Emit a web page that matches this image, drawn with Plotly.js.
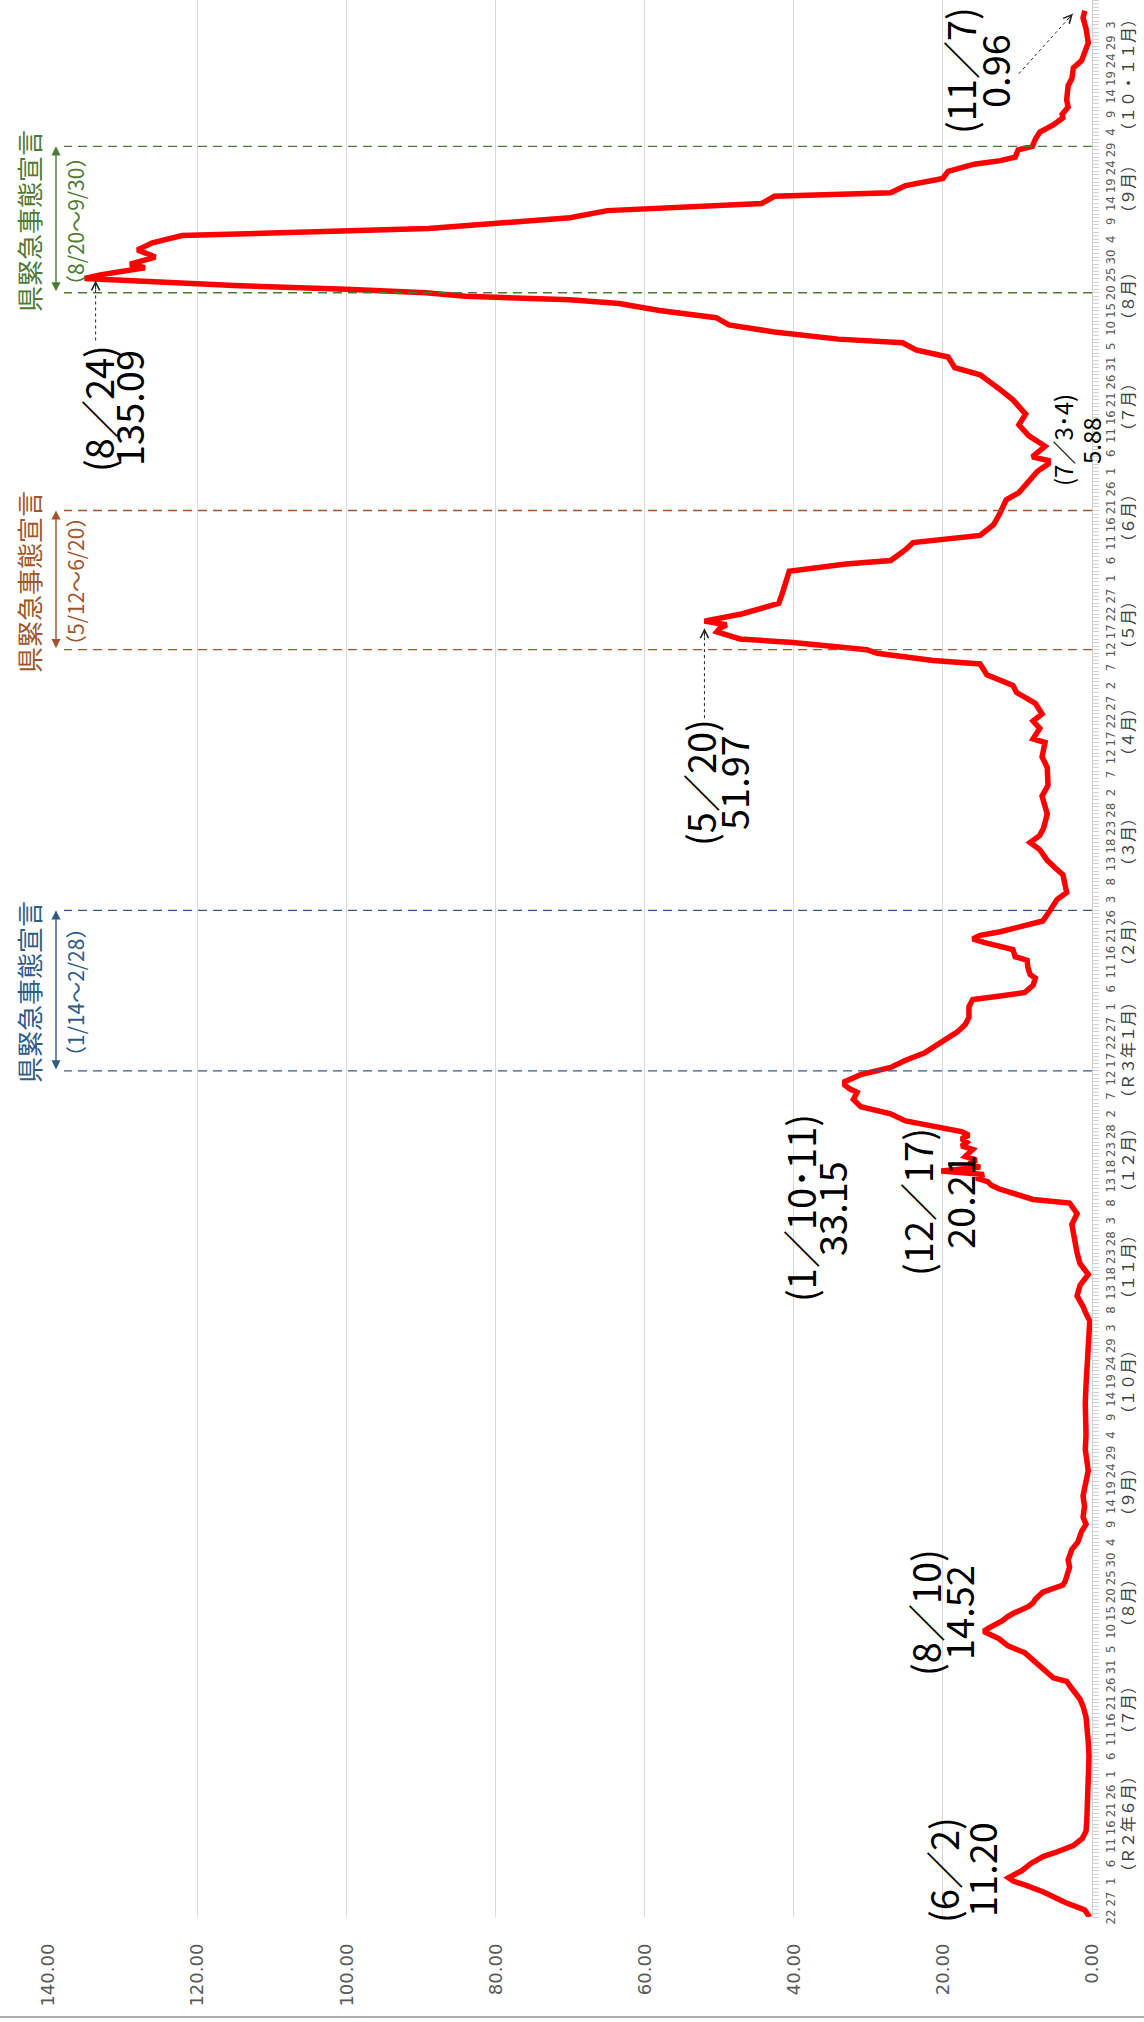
<!DOCTYPE html>
<html><head><meta charset="utf-8">
<script src="https://cdn.plot.ly/plotly-3.0.1.min.js"></script>
<style>
html,body{margin:0;padding:0;background:#fff;overflow:hidden;}
#wrap{position:absolute;left:0;top:0;width:1144px;height:2022px;overflow:hidden;background:#fff;}
#chart{position:absolute;left:0;top:0;width:2022px;height:1144px;transform-origin:0 0;transform:translate(0px,2022px) rotate(-90deg);}
</style></head>
<body><div id="wrap"><div id="chart"></div></div>
<script>
// ---------------- data ----------------
const dates = [
'2020-05-22','2020-05-24','2020-05-26','2020-05-28','2020-05-29','2020-05-31','2020-06-01','2020-06-02','2020-06-03','2020-06-04',
'2020-06-06','2020-06-08','2020-06-09','2020-06-10','2020-06-11','2020-06-13','2020-06-15','2020-06-18','2020-06-22','2020-06-26',
'2020-07-01','2020-07-06','2020-07-10','2020-07-14','2020-07-17','2020-07-20','2020-07-22','2020-07-25','2020-07-27','2020-07-28',
'2020-08-01','2020-08-04','2020-08-06','2020-08-08','2020-08-09','2020-08-10','2020-08-11','2020-08-12','2020-08-13','2020-08-14',
'2020-08-15','2020-08-17','2020-08-18','2020-08-19','2020-08-21','2020-08-23','2020-08-24','2020-08-26','2020-08-28','2020-08-30',
'2020-09-02','2020-09-04','2020-09-07','2020-09-09','2020-09-11','2020-09-14','2020-09-17','2020-09-20','2020-09-24','2020-09-27',
'2020-09-30','2020-10-04','2020-10-08','2020-10-13','2020-10-18','2020-10-22','2020-10-27','2020-11-02','2020-11-05','2020-11-07',
'2020-11-09','2020-11-12','2020-11-15','2020-11-18','2020-11-21','2020-11-24','2020-11-27','2020-12-02','2020-12-05','2020-12-07',
'2020-12-08','2020-12-09','2020-12-10','2020-12-11','2020-12-12','2020-12-13','2020-12-14','2020-12-15','2020-12-16','2020-12-17',
'2020-12-18','2020-12-19','2020-12-20','2020-12-21','2020-12-22','2020-12-23','2020-12-24','2020-12-25','2020-12-26','2020-12-27',
'2020-12-28','2020-12-29','2020-12-31','2021-01-02','2021-01-04','2021-01-06','2021-01-08','2021-01-09','2021-01-10','2021-01-11',
'2021-01-12','2021-01-13','2021-01-15','2021-01-17','2021-01-19','2021-01-21','2021-01-23','2021-01-25','2021-01-27','2021-01-29',
'2021-02-01','2021-02-03','2021-02-04','2021-02-05','2021-02-07','2021-02-09','2021-02-10','2021-02-12','2021-02-14','2021-02-15',
'2021-02-17','2021-02-18','2021-02-19','2021-02-20','2021-02-21','2021-02-22','2021-02-25','2021-02-28','2021-03-03','2021-03-05',
'2021-03-08','2021-03-10','2021-03-12','2021-03-14','2021-03-17','2021-03-19','2021-03-21','2021-03-23','2021-03-27','2021-04-01',
'2021-04-04','2021-04-09','2021-04-12','2021-04-16','2021-04-17','2021-04-20','2021-04-22','2021-04-24','2021-04-27','2021-04-30',
'2021-05-02','2021-05-05','2021-05-08','2021-05-09','2021-05-11','2021-05-12','2021-05-14','2021-05-15','2021-05-17','2021-05-18',
'2021-05-19','2021-05-20','2021-05-22','2021-05-25','2021-05-28','2021-05-31','2021-06-03','2021-06-05','2021-06-06','2021-06-09',
'2021-06-11','2021-06-13','2021-06-16','2021-06-19','2021-06-23','2021-06-25','2021-06-28','2021-07-01','2021-07-03','2021-07-04',
'2021-07-05','2021-07-08','2021-07-11','2021-07-14','2021-07-17','2021-07-21','2021-07-24','2021-07-28','2021-07-30','2021-08-02',
'2021-08-04','2021-08-06','2021-08-07','2021-08-08','2021-08-09','2021-08-11','2021-08-13','2021-08-15','2021-08-17','2021-08-18',
'2021-08-19','2021-08-20','2021-08-21','2021-08-22','2021-08-23','2021-08-24','2021-08-25','2021-08-26','2021-08-27','2021-08-28',
'2021-08-30','2021-09-01','2021-09-03','2021-09-04','2021-09-05','2021-09-07','2021-09-10','2021-09-12','2021-09-14','2021-09-16',
'2021-09-17','2021-09-19','2021-09-21','2021-09-23','2021-09-25','2021-09-26','2021-09-27','2021-09-29','2021-09-30','2021-10-02',
'2021-10-04','2021-10-06','2021-10-08','2021-10-09','2021-10-11','2021-10-13','2021-10-17','2021-10-19','2021-10-22','2021-10-24',
'2021-10-29','2021-11-02','2021-11-05','2021-11-07'];
const values = [
0.3,1.0,3.5,5.5,6.5,9.0,10.5,11.20,10.2,9.4,
8.2,6.5,5.0,3.5,2.5,1.3,0.8,0.7,0.6,0.5,
0.4,0.4,0.5,0.6,0.8,1.2,1.6,2.7,3.4,5.2,
7.4,9.0,11.3,12.5,13.5,14.52,13.8,12.8,12.0,11.4,
10.6,8.5,7.9,7.6,6.6,3.9,3.6,3.3,3.0,3.2,
2.7,1.9,1.4,0.8,1.2,1.0,1.2,0.9,0.5,0.7,
0.9,0.8,0.9,0.9,0.8,0.7,0.6,0.5,0.3,0.8,
1.2,2.0,1.6,0.5,1.6,2.0,2.3,2.7,2.0,2.8,
3.0,7.9,9.5,11.0,12.5,13.5,14.0,15.5,14.5,20.21,
15.0,16.5,15.5,17.0,16.5,16.0,17.5,16.8,17.5,16.5,
17.5,20.0,25.0,27.0,31.0,32.0,31.5,32.5,33.15,33.15,
32.2,31.0,27.0,25.0,22.5,21.0,19.5,18.0,17.0,16.5,
16.5,16.0,12.3,9.0,7.9,7.6,8.3,8.6,8.7,10.3,
10.6,13.0,14.5,16.0,15.0,12.3,6.6,5.6,4.7,3.4,
3.6,3.9,5.0,6.0,7.0,8.3,7.0,6.5,6.0,6.7,
5.9,6.0,6.7,6.3,7.9,7.0,7.9,6.7,7.6,10.1,
10.6,14.1,15.0,21.3,28.8,30.2,40.1,47.2,50.3,49.9,
49.0,51.97,47.0,42.0,41.5,41.0,40.6,33.0,27.0,25.0,
24.0,15.0,13.2,12.4,11.5,9.8,8.5,7.3,5.88,5.88,
8.0,6.3,8.5,9.8,8.9,10.6,12.4,15.0,18.4,19.3,
23.6,25.4,34.0,39.0,42.6,48.7,50.4,58.0,63.4,70.0,
84.0,89.3,100.0,115.0,125.6,135.09,133.0,130.0,127.0,129.0,
125.6,128.0,126.0,124.0,122.0,89.0,70.0,65.0,44.3,42.6,
27.0,25.0,20.0,19.3,15.8,12.3,10.3,9.9,8.0,7.6,
7.0,5.2,3.9,4.0,3.2,3.4,3.2,2.7,2.5,1.4,
0.5,0.8,1.2,0.96];

const peakDates = ['2020-06-02','2020-08-10','2020-12-17','2021-01-10 12:00','2021-05-20','2021-07-03 12:00','2021-08-24','2021-11-07'];
const peakValues = [11.20,14.52,20.21,33.15,51.97,5.88,135.09,0.96];
const peakDateText = ['(6／2)','(8／10)','(12／17)','(1／10･11)','(5／20)','(7／3･4)','(8／24)','(11／7)'];

const declStart = ['2021-01-14','2021-05-12','2021-08-20'];
const declEnd   = ['2021-02-28','2021-06-20','2021-09-30'];
const declTitle = ['県緊急事態宣言','県緊急事態宣言','県緊急事態宣言'];
const declRange = ['（1/14～2/28）','（5/12～6/20）','（8/20～9/30）'];

const monthLabels = ['（Ｒ２年６月）','（７月）','（８月）','（９月）','（１０月）','（１１月）','（１２月）','（Ｒ３年１月）',
  '（２月）','（３月）','（４月）','（５月）','（６月）','（７月）','（８月）','（９月）','（１０・１１月）'];
const monthCenters = ['2020-06-17','2020-07-19','2020-08-18','2020-09-18','2020-10-19','2020-11-20','2020-12-20','2021-01-20',
  '2021-02-19','2021-03-19','2021-04-19','2021-05-19','2021-06-18','2021-07-19','2021-08-19','2021-09-18','2021-10-20'];

const valueTicks = [0,20,40,60,80,100,120,140];
const axisStart = '2020-05-22', axisEnd = '2021-11-10', lastTick = '2021-11-03';

// ---------------- styling / geometry ----------------
const W = 2022, H = 1144, ML = 105, MR = 0, MT = 48, MB = 52;
const PH = H - MT - MB;
const vPaper = v => (H - MB - v) / PH;   // v = px from top of figure
const JP = '"Noto Sans CJK JP", "Noto Sans", sans-serif';
const declColors = ['#2E5B88', '#A0562A', '#4E7A34'];

function addDays(s, n) {
  const d = new Date(s + 'T00:00:00Z'); d.setUTCDate(d.getUTCDate() + n);
  return d.toISOString().slice(0, 10);
}
const tickVals = [], tickText = [];
for (let s = axisStart; s <= lastTick; s = addDays(s, 5)) {
  tickVals.push(s); tickText.push(String(parseInt(s.slice(8, 10), 10)));
}

const annotations = [], shapes = [];

monthLabels.forEach((t, i) => annotations.push({
  xref: 'x', yref: 'paper', x: monthCenters[i], y: vPaper(1127), text: t, showarrow: false,
  xanchor: 'center', yanchor: 'middle', font: {family: JP, size: 16, color: '#404040'}
}));

declStart.forEach((s, i) => {
  const c = declColors[i];
  [s, declEnd[i]].forEach(d => shapes.push({
    type: 'line', xref: 'x', yref: 'paper', x0: d, x1: d, y0: 0, y1: vPaper(64),
    line: {color: c, width: 1.3, dash: '9px,6px'}
  }));
  annotations.push({ xref: 'x', yref: 'paper', x: declEnd[i], y: vPaper(56), axref: 'x', ax: s, ayref: 'pixel', ay: 0,
    text: '', showarrow: true, arrowside: 'end+start', arrowhead: 2, arrowsize: 1.3, arrowwidth: 1.4, arrowcolor: c, standoff: 0, startstandoff: 0 });
  const mid = new Date((Date.parse(s) + Date.parse(declEnd[i])) / 2).toISOString().slice(0, 10);
  annotations.push({ xref: 'x', yref: 'paper', x: mid, y: vPaper(29), text: declTitle[i], showarrow: false,
    xanchor: 'center', yanchor: 'middle', font: {family: JP, size: 26, color: c} });
  annotations.push({ xref: 'x', yref: 'paper', x: mid, y: vPaper(75), text: declRange[i], showarrow: false,
    xanchor: 'center', yanchor: 'middle', font: {family: JP, size: 21, color: c} });
});

// peak labels: [xshift, yshift date line, yshift value line, font size]
const labelPos = [[8, 66, 28, 38], [19, 59, 26, 38], [-31, 25, -17, 38], [-125, 45, 14, 38],
                  [-161, 5, -28, 38], [22, -14, -42, 24], [-130, -13, -43, 38], [-60, 125, 91, 38]];
peakDates.forEach((d, i) => {
  const p = labelPos[i];
  annotations.push({ x: d, y: peakValues[i], xref: 'x', yref: 'y', text: peakDateText[i], showarrow: false,
    xanchor: 'center', yanchor: 'middle', xshift: p[0], yshift: p[1], font: {family: JP, size: p[3], color: '#000'} });
  annotations.push({ x: d, y: peakValues[i], xref: 'x', yref: 'y', text: peakValues[i].toFixed(2), showarrow: false,
    xanchor: 'center', yanchor: 'middle', xshift: p[0], yshift: p[2], font: {family: JP, size: p[3], color: '#000'} });
});

// dotted pointer arrows: [peak index, tail dx, tail dy(down), head dx, head dy(down)]
const pointers = [[4, -97, 0, -7, 0], [6, -62, 11, -2, 11], [7, -63, -66, -3, -12]];
pointers.forEach(([i, tx, ty, hx, hy]) => {
  shapes.push({ type: 'line', xref: 'x', yref: 'y', xsizemode: 'pixel', ysizemode: 'pixel',
    xanchor: peakDates[i], yanchor: peakValues[i], x0: tx, x1: hx, y0: -ty, y1: -hy,
    line: {color: '#222', width: 1, dash: 'dot'} });
  const len = Math.hypot(hx - tx, hy - ty), ux = (hx - tx) / len, uy = (hy - ty) / len;
  annotations.push({ x: peakDates[i], y: peakValues[i], xref: 'x', yref: 'y', text: '', showarrow: true,
    xshift: hx, yshift: -hy, ax: -ux * 10, ay: -uy * 10, arrowhead: 5, arrowsize: 1.6, arrowwidth: 1, arrowcolor: '#222', standoff: 0 });
});

shapes.push({ type: 'line', xref: 'paper', yref: 'paper', x0: (5 - ML) / (W - ML - MR), x1: (5 - ML) / (W - ML - MR),
  y0: vPaper(H), y1: vPaper(0), line: {color: '#b0b0b0', width: 2} });

const trace = { type: 'scatter', mode: 'lines', x: dates, y: values,
  line: {color: '#FF0000', width: 5.5, shape: 'linear'}, hoverinfo: 'x+y' };

const layout = {
  width: W, height: H, margin: {l: ML, r: MR, t: MT, b: MB, pad: 0},
  paper_bgcolor: '#fff', plot_bgcolor: '#fff', showlegend: false,
  xaxis: { type: 'date', range: [axisStart, axisEnd], tickmode: 'array', tickvals: tickVals, ticktext: tickText,
    tickangle: 0, ticks: 'outside', ticklen: 6, tickcolor: '#d0d0d0', tickwidth: 1,
    minor: {tickmode: 'linear', tick0: axisStart, dtick: 86400000, ticks: 'outside', ticklen: 6, tickcolor: '#d0d0d0', tickwidth: 1, showgrid: false},
    showgrid: false, showline: true, linecolor: '#d0d0d0', linewidth: 1, zeroline: false,
    tickfont: {family: '"Liberation Sans Narrow", "DejaVu Sans Condensed", sans-serif', size: 13, color: '#595959'} },
  yaxis: { range: [0, 140], tickmode: 'array', tickvals: valueTicks, tickformat: '.2f',
    ticks: 'outside', ticklen: 22, tickcolor: 'rgba(0,0,0,0)', showgrid: true, gridcolor: '#d9d9d9', gridwidth: 1,
    zeroline: false, showline: false, tickfont: {family: '"DejaVu Sans", sans-serif', size: 18, color: '#595959'} },
  annotations: annotations, shapes: shapes
};
Plotly.newPlot('chart', [trace], layout, {staticPlot: true, displayModeBar: false});
</script></body></html>
